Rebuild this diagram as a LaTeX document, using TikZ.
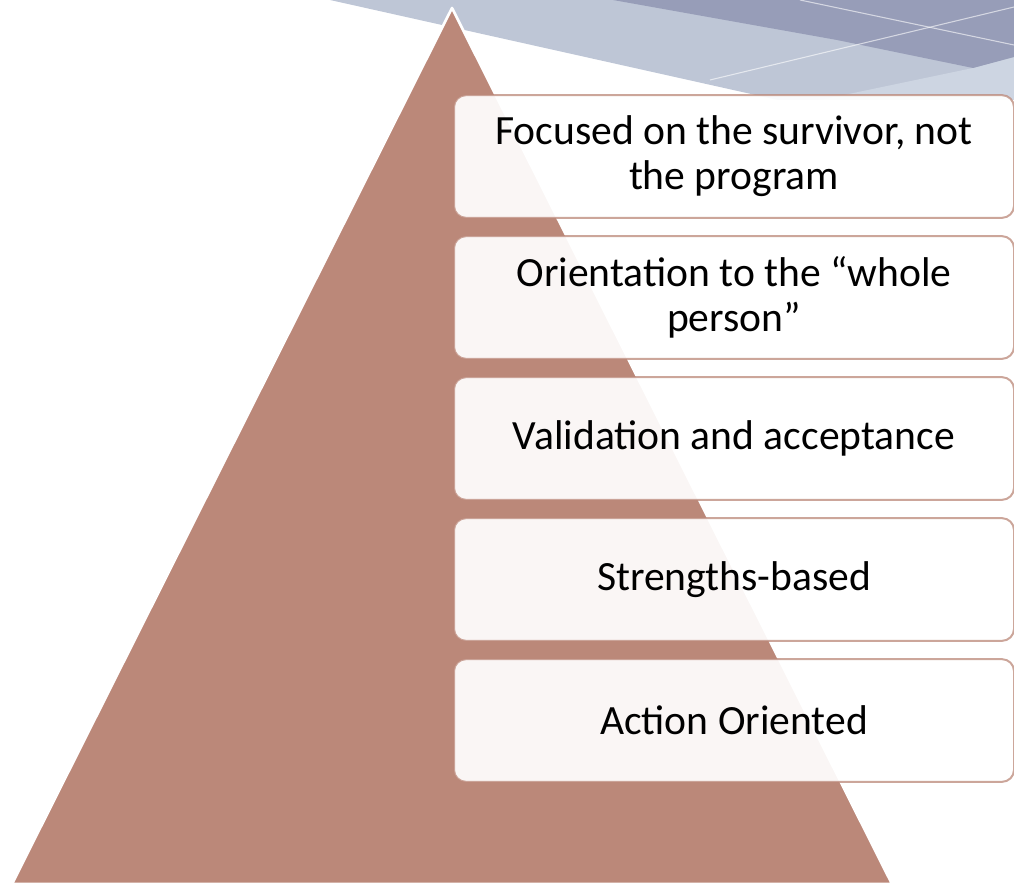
\documentclass[tikz,border=0pt]{standalone}
\usepackage{fontspec}
\setmainfont{Carlito}
\definecolor{pyramid}{RGB}{187,136,121}
\definecolor{bandlight}{RGB}{190,198,214}
\definecolor{bandpale}{RGB}{205,213,226}
\definecolor{banddark}{RGB}{151,157,184}

\begin{document}
\begin{tikzpicture}[x=0.75pt, y=-0.75pt, line join=round,
	levelbox/.style={rectangle, rounded corners=9pt, minimum width=420pt,
		minimum height=92pt, inner sep=0pt, align=center,
		font=\fontsize{31.2}{33.75}\selectfont,
		fill=white, fill opacity=.93, text opacity=1,
		draw=pyramid, draw opacity=.75, line width=1.5pt},
	bandline/.style={white, opacity=.6, line width=.8pt}]
	
	\clip (0,0) rectangle (1014,884);
	
	%========================
	% backdrop band, top right
	%========================
	\fill[bandlight] (330,0) -- (1014,0) -- (1014,100) -- (778,100) -- cycle;
	\fill[bandpale] (820,100) -- (973,68) -- (1014,57) -- (1014,100) -- cycle;
	\fill[banddark] (613,0) -- (1014,0) -- (1014,57) -- (973,68) -- (837,40) -- cycle;
	\draw[bandline] (800,0) -- (1014,45);
	\draw[bandline] (710,80) -- (1014,7);
	
	%========================
	% pyramid
	%========================
	\filldraw[fill=pyramid, draw=white, line width=2pt]
	(452,8) -- (892,884) -- (12,884) -- cycle;
	
	%========================
	% levels, top to bottom
	%========================
	\node[levelbox] (focus) at (734,156.5) {Focused on the survivor, not\\the program};
	\node[levelbox] (whole) at (734,297.5) {Orientation to the “whole\\person”};
	\node[levelbox] (valid) at (734,438.5) {Validation and acceptance};
	\node[levelbox] (strength) at (734,579.5) {Strengths-based};
	\node[levelbox] (action) at (734,720.5) {Action Oriented};
	
\end{tikzpicture}
\end{document}
